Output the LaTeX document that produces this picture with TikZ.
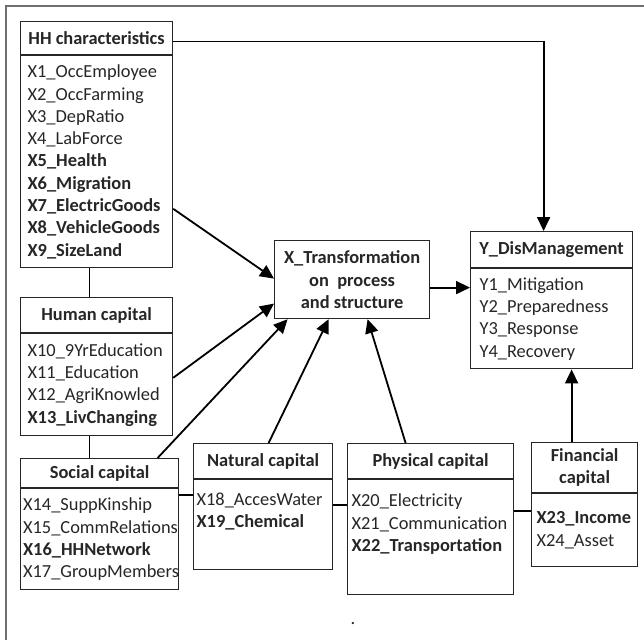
\documentclass[tikz,border=0pt]{standalone}
\usepackage{fontspec}
\setmainfont{Carlito}
\usepackage{tikz}
\usetikzlibrary{arrows.meta,positioning,calc}
\definecolor{ink}{HTML}{262626}
\definecolor{frameline}{HTML}{6E6E6E}
\newcommand\fsz{\fontsize{18.4pt}{22.3pt}\selectfont}
\begin{document}
\begin{tikzpicture}[x=1pt,y=-1pt,every node/.style={font=\fsz,text=ink},
  hdr/.style={draw=ink,line width=1.2pt,anchor=north west,inner sep=0pt,align=center,font=\fsz\bfseries},
  cell/.style={draw=ink,line width=1.2pt,below=0pt of #1,align=left,inner ysep=2pt},
  arr/.style={-{Triangle[length=14pt,width=13pt]},line width=1.8pt,draw=black},
  link/.style={line width=1.6pt,draw=black}]
\useasboundingbox (0,0) rectangle (644,639);
\draw[frameline,line width=1.2pt] (6,660) -- (6,6) -- (660,6);
% left column
\node[hdr,minimum width=152pt,minimum height=33pt] (hh) at (20,21) {HH characteristics};
\node[cell=hh,minimum height=212pt,inner xsep=7pt,text width=138pt] (hhbody) {X1\_OccEmployee\\X2\_OccFarming\\X3\_DepRatio\\X4\_LabForce\\\textbf{X5\_Health}\\\textbf{X6\_Migration}\\\textbf{X7\_ElectricGoods}\\\textbf{X8\_VehicleGoods}\\\textbf{X9\_SizeLand}};
\node[hdr,minimum width=152pt,minimum height=35pt] (hum) at (20,297) {Human capital};
\node[cell=hum,minimum height=102pt,inner xsep=7pt,text width=138pt] (humbody) {X10\_9YrEducation\\X11\_Education\\X12\_AgriKnowled\\\textbf{X13\_LivChanging}};
\node[hdr,minimum width=158pt,minimum height=29pt] (soc) at (20,458) {Social capital};
\node[cell=soc,minimum height=101pt,inner xsep=2.5pt,text width=153pt] (socbody) {X14\_SuppKinship\\X15\_CommRelations\\\textbf{X16\_HHNetwork}\\X17\_GroupMembers};
% bottom row
\node[hdr,minimum width=139pt,minimum height=35pt] (nat) at (193,443) {Natural capital};
\node[cell=nat,minimum height=90pt,inner xsep=3pt,text width=133pt] (natbody) {X18\_AccesWater\\\textbf{X19\_Chemical}\\\strut};
\node[hdr,minimum width=166pt,minimum height=35pt] (phy) at (347,443) {Physical capital};
\node[cell=phy,minimum height=115pt,inner xsep=4pt,text width=158pt] (phybody) {X20\_Electricity\\X21\_Communication\\\textbf{X22\_Transportation}\\\strut};
\node[hdr,minimum width=106pt,minimum height=50pt] (fin) at (531,442) {Financial\\capital};
\node[cell=fin,minimum height=73pt,inner xsep=5pt,text width=96pt] (finbody) {\textbf{X23\_Income}\\X24\_Asset};
% centre and outcome
\node[hdr,minimum width=155pt,minimum height=78pt] (xbox) at (274,240) {X\_Transformation\\on~~process\\and structure};
\node[hdr,minimum width=162pt,minimum height=36pt] (yhd) at (470,231) {Y\_DisManagement};
\node[cell=yhd,minimum height=100pt,inner xsep=9pt,text width=144pt] (ybody) {Y1\_Mitigation\\Y2\_Preparedness\\Y3\_Response\\Y4\_Recovery};
\node (dot) at (353,624) {.};
% connectors
\draw[link] ([xshift=-7pt]hhbody.south) -- ([xshift=-7pt]hhbody.south |- hum.north);
\draw[link] ([xshift=-7pt]humbody.south) -- ([xshift=-7pt]humbody.south |- soc.north);
\draw[link] ([yshift=-7pt]socbody.north east) -- ([yshift=-7pt]socbody.north east -| natbody.west);
\draw[link] ([yshift=-26pt]natbody.north east) -- ([yshift=-26pt]natbody.north east -| phybody.west);
\draw[link] ([yshift=-32pt]phybody.north east) -- ([yshift=-32pt]phybody.north east -| finbody.west);
\draw[arr] ([yshift=-3.5pt]hh.east) -| ([xshift=-8pt]yhd.north);
\draw[arr] ([yshift=-47pt]hhbody.east) -- ([yshift=1pt]xbox.west);
\draw[arr] ([yshift=7pt]humbody.east) -- ([yshift=-24pt]xbox.west);
\draw[arr] ([xshift=58pt]soc.north) -- ([xshift=-64.5pt]xbox.south);
\draw[arr] ([xshift=5.5pt]nat.north) -- ([xshift=-23.5pt]xbox.south);
\draw[arr] ([xshift=-25pt]phy.north) -- ([xshift=15.5pt]xbox.south);
\draw[arr] ([yshift=-8pt]xbox.east) -- ([yshift=-8pt]xbox.east -| ybody.west);
\draw[arr] ([xshift=-13pt]fin.north) -- ([xshift=-13pt]fin.north |- ybody.south);
\end{tikzpicture}
\end{document}
